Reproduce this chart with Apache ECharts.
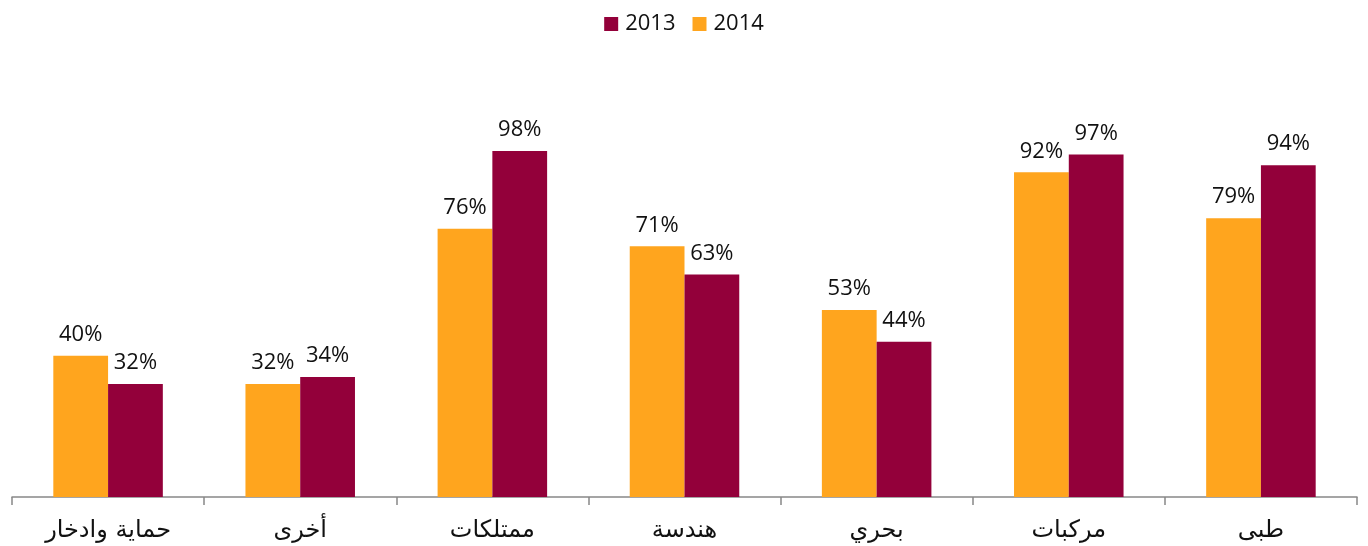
<!DOCTYPE html>
<html><head><meta charset="utf-8">
<script src="https://cdn.jsdelivr.net/npm/echarts@6/dist/echarts.min.js"></script>
<style>html,body{margin:0;padding:0;background:#fff}#c{width:1368px;height:546px}</style>
</head><body><div id="c"></div>
<script>
const categories = ['حماية وادخار','أخرى','ممتلكات','هندسة','بحري','مركبات','طبى'];
const values2014 = [40, 32, 76, 71, 53, 92, 79];
const values2013 = [32, 34, 98, 63, 44, 97, 94];
const legendOrder = ['2013', '2014'];

const chart = echarts.init(document.getElementById('c'));
const lbl = {show:true, position:'top', distance:10, formatter:'{c}%', color:'#111', fontSize:22, fontFamily:'Open Sans'};
chart.setOption({
  animation:false,
  legend:{data:legendOrder, top:8, left:'center', icon:'rect', itemWidth:14, itemHeight:14, itemGap:17,
    textStyle:{fontSize:22, color:'#111', fontFamily:'Open Sans', padding:[0,0,0,2]}},
  grid:{left:12, right:11, top:144, bottom:49},
  xAxis:{type:'category', data:categories,
    axisLine:{lineStyle:{color:'#888', width:1.5}},
    axisTick:{show:true, length:8, lineStyle:{color:'#888', width:1.5}},
    axisLabel:{fontSize:24, color:'#111', margin:22, fontFamily:'DejaVu Sans'}},
  yAxis:{type:'value', min:0, max:100, show:false, splitLine:{show:false}},
  series:[
    {name:'2014', type:'bar', data:values2014, itemStyle:{color:'#FFA51E'}, barGap:'0%', barCategoryGap:'43%', label:lbl},
    {name:'2013', type:'bar', data:values2013, itemStyle:{color:'#93003A'}, barGap:'0%', barCategoryGap:'43%', label:lbl}
  ]
});
</script></body></html>
